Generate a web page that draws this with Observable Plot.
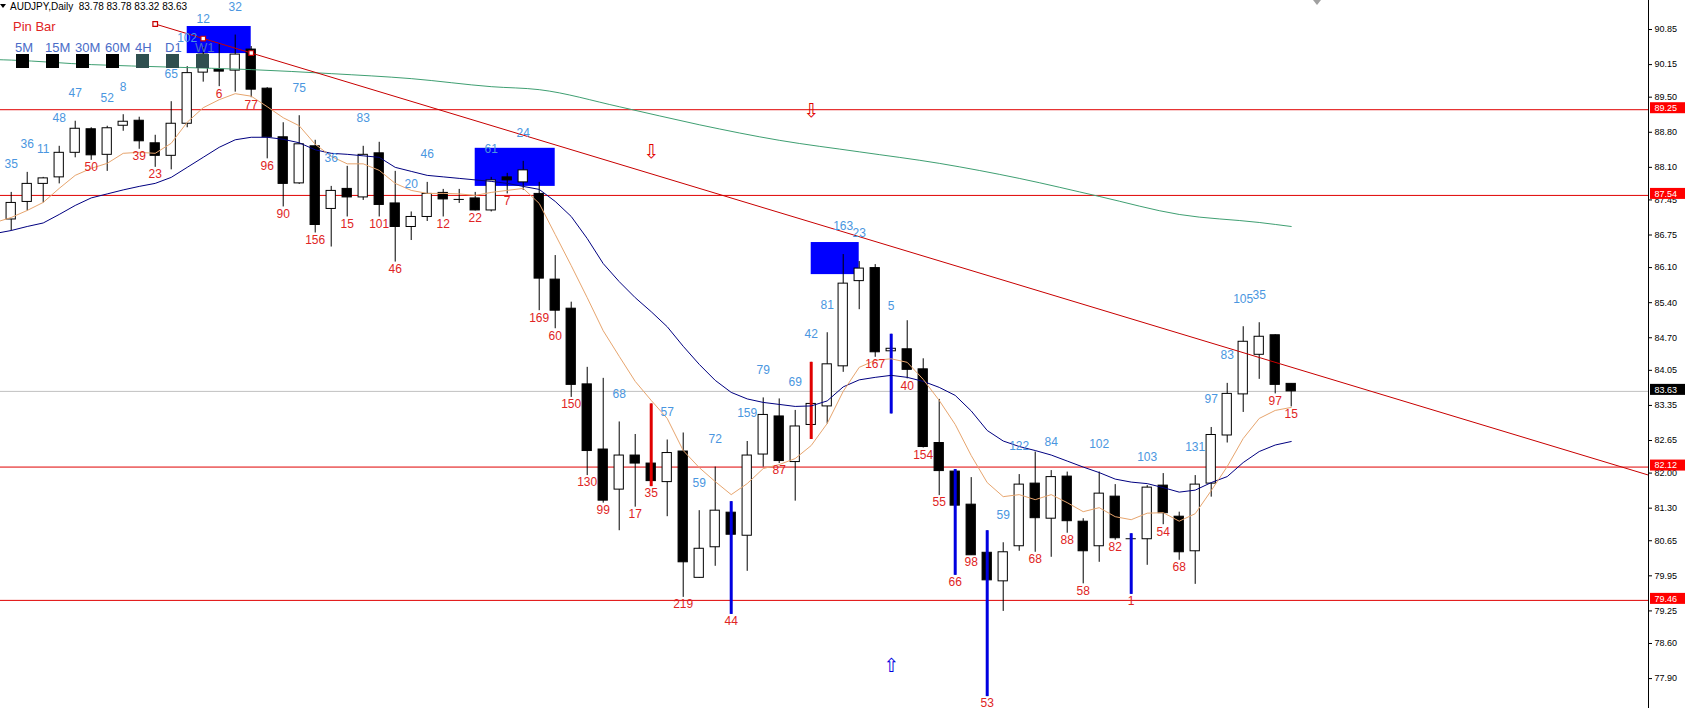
<!DOCTYPE html>
<html><head><meta charset="utf-8">
<script src="https://cdn.jsdelivr.net/npm/d3@7"></script>
<script src="https://cdn.jsdelivr.net/npm/@observablehq/plot@0.6"></script>
<style>
body{margin:0;background:#fff;}
#wrap{position:relative;width:1685px;height:708px;overflow:hidden;font-family:"Liberation Sans",Arial,sans-serif;}
#chart{position:absolute;left:0;top:0;}
.ov{position:absolute;white-space:nowrap;}
</style></head><body><div id="wrap"><div id="chart"></div></div>
<script>
// ---- header texts ----
const symbolTitle = "AUDJPY,Daily";
const quote = [83.78, 83.78, 83.32, 83.63];
const indicatorName = "Pin Bar";
const tfLabels = ["5M","15M","30M","60M","4H","D1","W1"];
const tfColors = ["#000000","#000000","#000000","#000000","#2f4f4f","#2f4f4f","#2f4f4f"];

// ---- daily candles (index 0..80) ----
const opens = [87.06,87.41,87.77,87.90,88.39,88.86,88.35,88.93,89.03,88.58,
88.33,88.97,89.99,90.05,90.03,90.45,89.67,88.70,87.78,88.52,
87.27,87.67,87.50,88.38,87.38,86.91,87.11,87.59,87.46,87.48,
87.24,87.90,87.80,87.57,85.86,85.28,83.77,82.47,81.67,82.35,
82.19,81.82,82.43,79.91,80.52,81.21,80.75,82.37,83.13,82.22,
82.96,83.33,84.13,85.83,86.09,84.43,84.47,84.07,82.60,82.03,
81.37,80.41,79.84,80.54,81.79,81.09,81.93,81.03,80.54,81.53,
80.69,80.68,81.75,81.13,80.44,81.79,82.75,83.57,84.36,84.75,83.78];
const highs = [87.60,88.00,87.90,88.52,89.02,88.89,88.92,89.15,89.10,88.74,
89.41,90.11,90.49,90.57,90.74,90.51,89.69,88.99,89.13,88.64,
87.72,88.12,88.52,88.60,88.02,87.21,87.80,87.66,87.66,87.60,
87.90,87.98,88.22,87.80,86.34,85.41,84.11,83.89,83.02,82.77,
83.38,82.66,82.80,81.25,82.12,81.43,82.63,83.50,83.48,83.25,
84.21,84.80,86.36,86.22,86.16,84.77,85.04,84.28,83.47,82.07,
81.91,80.85,80.61,81.97,82.42,82.05,82.02,81.09,82.02,81.77,
80.79,81.75,81.99,81.22,81.95,82.91,83.79,84.92,85.00,84.76,83.78];
const lows = [86.83,87.23,87.39,87.77,88.29,88.24,88.02,88.82,88.46,88.10,
88.05,88.89,89.80,89.71,89.60,89.49,88.27,87.31,87.76,86.79,
86.51,87.11,87.44,87.11,86.21,86.64,87.02,87.11,87.38,87.23,
87.21,87.57,87.64,85.24,84.88,83.51,81.95,81.40,80.85,81.32,
81.73,81.13,79.52,79.90,80.14,79.18,80.04,82.12,82.19,81.44,
82.67,82.98,84.01,85.26,84.31,83.18,83.88,82.50,81.55,79.96,
80.36,77.54,79.24,80.44,80.42,80.32,80.80,79.79,80.22,80.66,
79.58,80.16,80.97,80.26,79.78,81.52,82.60,83.21,83.87,83.58,83.32];
const closes = [87.39,87.77,87.88,88.39,88.87,88.34,88.88,89.01,88.62,88.33,
88.97,89.98,90.35,90.01,90.35,89.65,88.70,87.77,88.56,86.95,
87.63,87.50,88.35,87.35,86.91,87.11,87.57,87.46,87.46,87.24,
87.84,87.84,88.04,85.88,85.24,83.76,82.44,81.45,82.35,82.19,
81.84,82.40,80.22,80.49,81.25,80.77,82.35,83.16,82.24,82.93,
83.38,84.17,85.78,86.08,84.41,84.48,84.06,82.52,82.04,81.35,
80.36,79.86,80.42,81.77,81.10,81.92,81.04,80.44,81.59,80.70,
80.69,81.71,81.20,80.42,81.77,82.76,83.58,84.62,84.72,83.76,83.63];

// ---- moving averages (first value = bar -1, just off the left edge) ----
const maFast = [87.00,87.10,87.24,87.40,87.68,87.94,88.08,88.18,88.38,88.40,88.38,
88.58,89.00,89.29,89.45,89.57,89.52,89.31,89.09,88.93,88.56,
88.32,88.17,88.17,88.04,87.78,87.64,87.58,87.58,87.57,87.54,
87.60,87.64,87.68,87.38,86.76,86.14,85.50,84.84,84.33,83.83,
83.45,83.09,82.45,82.11,81.83,81.57,81.79,82.09,82.17,82.29,
82.55,82.99,83.63,84.11,84.25,84.28,84.21,83.87,83.45,82.97,
82.35,81.81,81.53,81.57,81.47,81.57,81.41,81.23,81.31,81.13,
81.07,81.20,81.21,81.04,81.19,81.65,82.13,82.69,83.09,83.25,83.31];
const maMid = [86.78,86.84,86.92,86.99,87.16,87.34,87.49,87.57,87.65,87.72,87.78,
87.90,88.10,88.30,88.50,88.65,88.70,88.70,88.66,88.59,88.45,
88.38,88.36,88.33,88.30,88.10,88.02,87.94,87.91,87.88,87.85,
87.82,87.78,87.72,87.66,87.42,87.12,86.68,86.18,85.82,85.50,
85.22,84.92,84.53,84.17,83.85,83.61,83.48,83.41,83.37,83.33,
83.34,83.44,83.72,83.86,83.91,83.95,83.91,83.83,83.71,83.55,
83.24,82.85,82.64,82.53,82.45,82.36,82.24,82.12,82.01,81.88,
81.82,81.79,81.71,81.62,81.66,81.81,81.93,82.21,82.43,82.56,82.63];
const maSlowIdx = [-1,0,5,10,15,20,25,30,33,38,43,48,53,58,63,68,73,78,80];
const maSlowVal = [90.25,90.24,90.15,90.10,90.05,89.97,89.87,89.71,89.65,89.31,88.95,88.64,88.41,88.18,87.88,87.52,87.16,87.00,86.92];

// ---- swing count labels ----
const blueIdx = [0,1,2,3,4,6,7,10,11,12,14,18,20,22,25,26,30,32,38,41,43,44,46,47,49,50,51,52,53,55,62,63,65,68,71,74,75,76,77,78];
const blueText = ["35","36","11","48","47","52","8","65","102","12","32","75","36","83","20","46","61","24","68","57","59","72","159","79","69","42","81","163","23","5","59","122","84","102","103","131","97","83","105","35"];
const redIdx = [5,8,9,13,15,16,17,19,21,23,24,27,29,31,33,34,35,36,37,39,40,42,45,48,54,56,57,58,59,60,61,64,66,67,69,70,72,73,79,80];
const redText = ["50","39","23","6","77","96","90","156","15","101","46","12","22","7","169","60","150","130","99","17","35","219","44","87","167","40","154","55","66","98","53","68","88","58","82","1","54","68","97","15"];

// ---- pin bars ----
const pinIdx = [40,45,50,55,59,61,70];
const pinKind = ["bear","bull","bear","bull","bull","bull","bull"];
const arrowIdx = [40,50,55];
const arrowPrice = [88.40,89.23,78.16];
const arrowKind = ["bear","bear","bull"];

// ---- drawn objects ----
const levels = [89.25, 87.54, 82.12, 79.46];
const lastPrice = 83.63;
const boxX1 = [11, 29, 50];
const boxX2 = [15, 34, 53];
const boxTop = [90.91, 88.48, 86.60];
const boxBottom = [90.37, 87.72, 85.96];
const trendIdx = [9, 102.33];
const trendPrice = [90.96, 81.96];
const trendAnchorIdx = [9, 12, 15];
const trendAnchorPrice = [90.96, 90.67, 90.38];
const yTicks = [90.85,90.15,89.50,88.80,88.10,87.45,86.75,86.10,85.40,84.70,84.05,83.35,82.65,82.00,81.30,80.65,79.95,79.25,78.60,77.90];

// ---- build ----
const xDomain = [-0.669, 102.33];
const yDomain = [77.303, 91.429];
const candles = opens.map((o, i) => ({i, o, h: highs[i], l: lows[i], c: closes[i]}));
const dojis = candles.filter(d => d.o === d.c);
const pins = pinIdx.map((i, k) => ({i, h: highs[i], l: lows[i], kind: pinKind[k]}));
const blueLabels = blueIdx.map((i, k) => ({i, p: highs[i], t: blueText[k]}));
const redLabels = redIdx.map((i, k) => ({i, p: lows[i], t: redText[k]}));
const arrows = arrowIdx.map((i, k) => ({i, p: arrowPrice[k], kind: arrowKind[k]}));
const boxes = boxX1.map((x1, k) => ({x1, x2: boxX2[k], y1: boxTop[k], y2: boxBottom[k]}));
const trend = trendIdx.map((i, k) => ({i, p: trendPrice[k]}));
const anchors = trendAnchorIdx.map((i, k) => ({i, p: trendAnchorPrice[k]}));
const fastLine = maFast.map((p, k) => ({i: k - 1, p}));
const midLine = maMid.map((p, k) => ({i: k - 1, p}));
const slowLine = maSlowIdx.map((i, k) => ({i, p: maSlowVal[k]}));
const priceTags = levels.map(p => ({p, bg: "#ff0000"})).concat([{p: lastPrice, bg: "#000000"}]);
const xMax = xDomain[1];

const RED = "#e00000", BLUE_LBL = "#4a96e0", RED_LBL = "#e02424";

const chart = Plot.plot({
  width: 1685, height: 708,
  marginLeft: 0, marginRight: 37, marginTop: 0, marginBottom: 0,
  style: {fontFamily: "'Liberation Sans', Arial, sans-serif", background: "#fff", overflow: "visible"},
  x: {type: "linear", domain: xDomain, axis: null},
  y: {domain: yDomain, axis: null},
  marks: [
    Plot.rect(boxes, {x1: "x1", x2: "x2", y1: "y1", y2: "y2", fill: "#0000ff"}),
    Plot.ruleY([lastPrice], {stroke: "#c0c0c0"}),
    Plot.ruleY(levels, {stroke: RED, strokeWidth: 1}),
    Plot.ruleX(candles, {x: "i", y1: "l", y2: "h", stroke: "#000"}),
    Plot.rect(candles, {x1: d => d.i - 0.29, x2: d => d.i + 0.29, y1: "o", y2: "c",
      fill: d => d.c >= d.o ? "#fff" : "#000", stroke: "#000", strokeWidth: 1}),
    Plot.ruleY(dojis, {y: "o", x1: d => d.i - 0.32, x2: d => d.i + 0.32, stroke: "#000"}),
    Plot.ruleX(pins, {x: "i", y1: "l", y2: "h", stroke: d => d.kind === "bear" ? "#e00000" : "#0000e0", strokeWidth: 3}),
    Plot.line(slowLine, {x: "i", y: "p", stroke: "#3f9f72", strokeWidth: 1, curve: "monotone-x", clip: true}),
    Plot.line(midLine, {x: "i", y: "p", stroke: "#000080", strokeWidth: 1, clip: true}),
    Plot.line(fastLine, {x: "i", y: "p", stroke: "#e7a56e", strokeWidth: 1, clip: true}),
    Plot.line(trend, {x: "i", y: "p", stroke: "#c80000", strokeWidth: 1}),
    Plot.dot(anchors, {x: "i", y: "p", symbol: "square", r: 2.6, fill: "#fff", stroke: "#c80000", strokeWidth: 1.2}),
    Plot.text(blueLabels, {x: "i", y: "p", text: "t", dy: -28, fill: BLUE_LBL, fontSize: 12}),
    Plot.text(redLabels, {x: "i", y: "p", text: "t", dy: 7, fill: RED_LBL, fontSize: 12}),
    Plot.text(arrows, {x: "i", y: "p", text: d => d.kind === "bear" ? "\u21E9" : "\u21E7",
      fill: d => d.kind === "bear" ? "#e00000" : "#0000e0", fontSize: 19, fontFamily: "DejaVu Sans"}),
    Plot.ruleX([xMax], {stroke: "#000"}),
    Plot.axisY({ticks: yTicks, anchor: "right", tickSize: 3, tickPadding: 3, fontSize: 9,
      tickFormat: d => d.toFixed(2), fill: "#000", stroke: "#000"}),
    Plot.rect(priceTags, {x1: xMax, x2: xMax, y1: "p", y2: "p", fill: "bg",
      insetLeft: 2, insetRight: -37, insetTop: -7, insetBottom: -4}),
    Plot.text(priceTags, {x: xMax, y: "p", text: d => d.p.toFixed(2), dx: 6, dy: -1.5,
      textAnchor: "start", fill: "#fff", fontSize: 9})
  ]
});
document.getElementById("chart").appendChild(chart);

// ---- overlay: title, indicator name, timeframe panel ----
const wrap = document.getElementById("wrap");
function ov(html, css) {
  const d = document.createElement("div");
  d.className = "ov"; d.innerHTML = html; Object.assign(d.style, css); wrap.appendChild(d);
  return d;
}
ov("", {left: "0px", top: "4px", width: "0", height: "0", borderLeft: "3px solid transparent",
  borderRight: "3px solid transparent", borderTop: "4px solid #000"});
ov(symbolTitle + "&nbsp; " + quote.map(v => v.toFixed(2)).join(" "),
  {left: "10px", top: "1px", fontSize: "10px", lineHeight: "12px", color: "#000"});
ov("", {left: "1313px", top: "0px", width: "0", height: "0", borderLeft: "4px solid transparent",
  borderRight: "4px solid transparent", borderTop: "5px solid #a0a0a0"});
ov(indicatorName, {left: "13px", top: "19px", fontSize: "13px", lineHeight: "16px", color: "#e02424"});
tfLabels.forEach((t, k) => {
  ov(t, {left: (15 + 30 * k) + "px", top: "40px", fontSize: "13px", lineHeight: "16px", color: "#4a6cc8"});
  ov("", {left: (16 + 30 * k) + "px", top: "54px", width: "13px", height: "14px", background: tfColors[k]});
});
</script></body></html>
